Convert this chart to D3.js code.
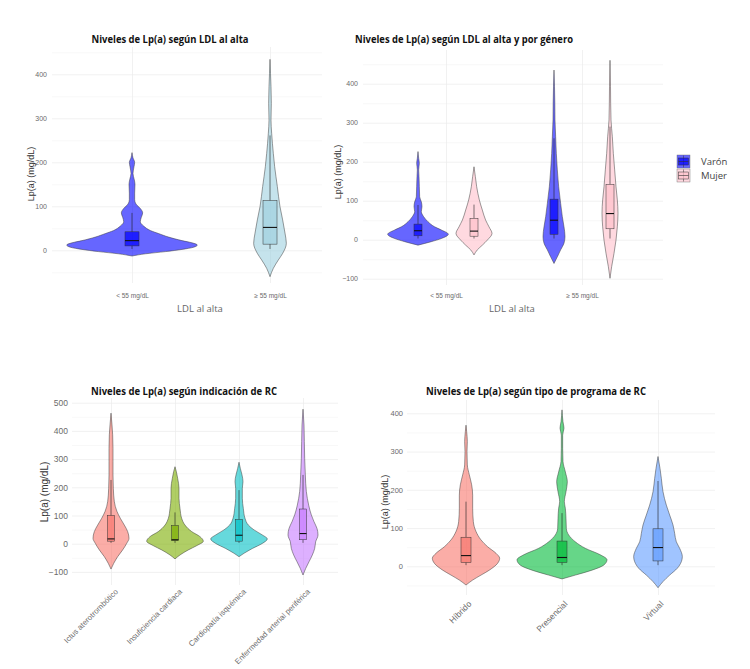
<!DOCTYPE html>
<html>
<head>
<meta charset="utf-8">
<script src="https://cdn.jsdelivr.net/npm/d3@7"></script>
<style>
  body { margin: 0; background: #fff; }
  svg { display: block; }
  .tick line { stroke: none; }
</style>
</head>
<body>
<script>
// ---- data ----
// densities are [Lp(a) value, relative density]; boxes are [low whisker, q1, median, q3, high whisker]
const ldlCats = ["< 55 mg/dL", "≥ 55 mg/dL"];
const ldlDensity = [
  [[-13,0],[-8,40],[-3,100],[2,150],[7,185],[12,196],[17,180],[22,150],[30,110],[38,80],[45,55],[55,35],[65,25],[75,28],[85,32],[95,25],[105,12],[115,8],[130,8],[150,9],[160,7],[175,3],[190,6],[200,8],[210,3],[222,0]],
  [[-60,0],[-41,10],[-22,25],[-7,38],[16,49],[39,45],[69,38],[99,30],[145,22],[190,14],[220,10],[266,5],[296,3],[334,4],[372,3],[402,1.5],[434,0]]
];
const ldlBox = [[3,10,22,42,85],[3,14,52,113,261]];

const sexes = ["Varón", "Mujer"];
const sexDensity = [
  [ // < 55
    [[-14,0],[-5,40],[3,70],[14,91],[25,70],[33,50],[46,30],[59,17],[72,10],[85,12],[97,10],[110,5],[136,4],[162,3],[179,2],[196,4],[209,2],[226,0]],
    [[-39,0],[-26,10],[-14,25],[-1,40],[16,54],[33,45],[50,35],[76,25],[102,16],[136,8],[162,4],[187,0]]
  ],
  [ // >= 55
    [[-61,0],[-44,10],[-26,20],[-9,30],[8,33],[33,30],[59,25],[93,20],[136,14],[179,10],[221,7],[264,5],[307,3],[350,2.5],[392,1.5],[435,0]],
    [[-99,0],[-69,5],[-35,12],[-1,18],[33,22],[68,24],[102,22],[136,18],[179,14],[221,10],[264,7],[307,3],[350,2],[392,1.5],[460,0]]
  ]
];
const sexBox = [
  [[3,10,23,40,89],[3,9,22,55,90]],
  [[3,14,50,104,260],[3,28,67,142,290]]
];

const rcCats = ["Ictus aterotrombótico", "Insuficiencia cardiaca", "Cardiopatía isquémica", "Enfermedad arterial periférica"];
const rcDensity = [
  [[-90,0],[-70,8],[-46,20],[-22,35],[1,47],[19,54],[43,50],[66,40],[90,28],[114,18],[149,10],[196,7],[244,6],[291,6],[338,6],[386,5],[421,3],[463,0]],
  [[-54,0],[-40,15],[-22,40],[-7,65],[9,85],[25,75],[43,50],[66,30],[90,20],[125,15],[161,12],[196,12],[232,8],[256,4],[273,0]],
  [[-46,0],[-34,15],[-17,40],[1,70],[17,85],[31,70],[49,45],[66,28],[90,18],[125,13],[161,10],[196,10],[220,12],[244,9],[267,4],[289,0]],
  [[-111,0],[-88,8],[-64,18],[-40,28],[-17,35],[7,38],[31,45],[54,42],[78,33],[102,25],[137,17],[185,10],[244,7],[303,5],[362,4],[421,3],[477,0]]
];
const rcBox = [[3,9,17,100,226],[3,11,14,65,111],[3,9,30,86,190],[3,14,36,123,244]];

const progCats = ["Híbrido", "Presencial", "Virtual"];
const progDensity = [
  [[-49,0],[-36,20],[-23,45],[-10,70],[8,95],[21,101],[34,90],[51,65],[69,45],[91,30],[117,22],[152,20],[186,20],[213,17],[239,10],[265,4],[300,3],[326,4],[352,2],[369,0]],
  [[-33,0],[-23,40],[-10,90],[3,125],[17,135],[30,115],[47,70],[64,40],[82,20],[99,13],[125,12],[152,10],[169,7],[195,12],[221,16],[247,10],[274,3],[308,2],[343,2],[361,6],[378,3],[409,0]],
  [[-56,0],[-40,15],[-23,35],[-5,58],[12,70],[25,73],[47,65],[64,55],[86,50],[108,45],[134,35],[160,25],[195,15],[230,10],[256,6],[287,0]]
];
const progBox = [[3,10,28,76,169],[3,10,23,66,139],[3,14,49,98,223]];

// ---- drawing ----
const svg = d3.select("body").append("svg").attr("width", 750).attr("height", 669);
const densityWidth = d3.scaleLinear().domain([0, 3]).range([0, 1]);

function panel(p) {
  const g = svg.append("g");
  const y = d3.scaleLinear().domain([0, 400]).range([p.zeroPx, p.fourHundredPx]);
  const x = d3.scalePoint().domain(p.cats).range(p.xRange);
  const gw = p.gx1 - p.gx0;

  // minor grid
  g.append("g").attr("transform", `translate(${p.gx0},0)`)
    .call(d3.axisLeft(y).tickValues(p.minor).tickSize(-gw).tickFormat(""))
    .call(a => a.select(".domain").remove())
    .selectAll(".tick line").style("stroke", "#f4f4f4").style("stroke-width", 0.6);
  // major grid + labels
  const ya = g.append("g").attr("transform", `translate(${p.gx0},0)`)
    .call(d3.axisLeft(y).tickValues(p.major).tickSize(-gw).tickPadding(p.tickPad))
    .call(a => a.select(".domain").remove());
  ya.selectAll(".tick line").style("stroke", "#ebebeb").style("stroke-width", 0.7);
  ya.selectAll("text").attr("x", -p.tickPad).style("font-family", "Liberation Sans, Arial, sans-serif")
    .style("font-size", p.tickFont + "px").style("fill", "#6b6b6b");
  // vertical grid
  const xg = g.append("g").attr("transform", `translate(0,${p.vg1})`)
    .call(d3.axisBottom(x).tickSize(-(p.vg1 - p.vg0)).tickFormat(""))
    .call(a => a.select(".domain").remove());
  xg.selectAll(".tick line").style("stroke", "#ebebeb").style("stroke-width", 0.7);

  // x labels
  const xa = g.append("g").attr("transform", `translate(0,${p.xLabY})`)
    .call(d3.axisBottom(x).tickSize(0).tickPadding(0))
    .call(a => a.select(".domain").remove());
  xa.selectAll("text").style("font-family", "Liberation Sans, Arial, sans-serif")
    .style("font-size", p.xFont + "px").style("fill", "#6b6b6b");
  if (p.rotate) {
    xa.selectAll("text").attr("x", 0).attr("y", 0).attr("dy", "0.75em")
      .attr("text-anchor", "end").attr("transform", `translate(${p.rotShift},0) rotate(-45)`);
  }

  // violins + boxes
  p.groups.forEach(gr => {
    const cx = x(gr.cat) + (gr.offset || 0);
    const area = d3.area()
      .y(d => y(d[0]))
      .x0(d => cx - densityWidth(d[1]))
      .x1(d => cx + densityWidth(d[1]))
      .curve(d3.curveMonotoneY);
    g.append("path").attr("d", area(gr.density))
      .attr("fill", gr.color).attr("fill-opacity", p.violinAlpha)
      .attr("stroke", "#3a3a3a").attr("stroke-width", 0.5);
    const [lo, q1, md, q3, hi] = gr.box;
    const bw = p.boxW;
    g.append("line").attr("x1", cx).attr("x2", cx).attr("y1", y(q3)).attr("y2", y(hi))
      .attr("stroke", "#222").attr("stroke-width", 0.6);
    g.append("line").attr("x1", cx).attr("x2", cx).attr("y1", y(q1)).attr("y2", y(lo))
      .attr("stroke", "#222").attr("stroke-width", 0.6);
    g.append("rect").attr("x", cx - bw / 2).attr("width", bw)
      .attr("y", y(q3)).attr("height", y(q1) - y(q3))
      .attr("fill", gr.boxColor || gr.color).attr("fill-opacity", p.boxAlpha)
      .attr("stroke", "#333").attr("stroke-width", 0.5);
    g.append("line").attr("x1", cx - bw / 2).attr("x2", cx + bw / 2)
      .attr("y1", y(md)).attr("y2", y(md)).attr("stroke", "#111").attr("stroke-width", 1.1);
  });

  // titles
  const t = g.append("text").attr("x", p.titleX).attr("y", p.titleY)
    .attr("text-anchor", p.titleAnchor)
    .style("font-family", "Open Sans, sans-serif").style("font-weight", "bold")
    .style("font-size", "11px").style("fill", "#111")
    .text(p.title);
  t.attr("textLength", p.titleW).attr("lengthAdjust", "spacingAndGlyphs");

  g.append("text").attr("transform", `translate(${p.yTitleX},${p.yTitleY}) rotate(-90)`)
    .attr("text-anchor", "middle")
    .style("font-family", "Liberation Sans, Arial, sans-serif")
    .style("font-size", p.yTitleFont + "px").style("fill", "#333")
    .text("Lp(a) (mg/dL)");

  if (p.xTitle) {
    g.append("text").attr("x", p.xTitleX).attr("y", p.xTitleY).attr("text-anchor", "middle")
      .style("font-family", "Open Sans, sans-serif").style("font-size", "9.5px").style("fill", "#666")
      .text(p.xTitle);
  }
  return { g, x, y };
}

const hue4 = ["#F8766D", "#7CAE00", "#00BFC4", "#C77CFF"];
const hue3 = ["#F8766D", "#00BA38", "#619CFF"];
const sexColors = ["#0000ff", "#FFC0CB"];

// panel 1
panel({
  cats: ldlCats, xRange: [132, 270], zeroPx: 250.3, fourHundredPx: 74.3,
  gx0: 52, gx1: 322, vg0: 47, vg1: 283,
  major: [0, 100, 200, 300, 400], minor: [-50, 50, 150, 250, 350, 450],
  tickPad: 5, tickFont: 7, xLabY: 293, xFont: 6.5,
  violinAlpha: 0.6, boxAlpha: 0.7, boxW: 14,
  groups: ldlCats.map((c, i) => ({ cat: c, density: ldlDensity[i], box: ldlBox[i], color: ["#0000ff", "#9fd0df"][i] })),
  title: "Niveles de Lp(a) según LDL al alta", titleX: 170, titleY: 43, titleAnchor: "middle", titleW: 157,
  yTitleX: 34, yTitleY: 174, yTitleFont: 9,
  xTitle: "LDL al alta", xTitleX: 200, xTitleY: 312
});

// panel 2
const p2groups = [];
ldlCats.forEach((c, i) => sexes.forEach((s, j) => p2groups.push({
  cat: c, offset: j === 0 ? -28 : 28, density: sexDensity[i][j], box: sexBox[i][j], color: sexColors[j]
})));
panel({
  cats: ldlCats, xRange: [446, 582], zeroPx: 239.7, fourHundredPx: 83.7,
  gx0: 363, gx1: 663, vg0: 50, vg1: 285,
  major: [-100, 0, 100, 200, 300, 400], minor: [-50, 50, 150, 250, 350, 450],
  tickPad: 5, tickFont: 7, xLabY: 293, xFont: 6.5,
  violinAlpha: 0.6, boxAlpha: 0.7, boxW: 8,
  groups: p2groups,
  title: "Niveles de Lp(a) según LDL al alta y por género", titleX: 355, titleY: 43, titleAnchor: "start", titleW: 218,
  yTitleX: 341, yTitleY: 172, yTitleFont: 9,
  xTitle: "LDL al alta", xTitleX: 512, xTitleY: 312
});

// legend for panel 2
const leg = svg.append("g");
sexes.forEach((s, j) => {
  const ky = 155 + j * 14;
  const k = leg.append("g").attr("transform", `translate(677,${ky})`);
  k.append("rect").attr("width", 13).attr("height", 13).attr("fill", sexColors[j]).attr("fill-opacity", 0.6)
    .attr("stroke", "#666").attr("stroke-width", 0.4);
  k.append("line").attr("x1", 6.5).attr("x2", 6.5).attr("y1", 0.5).attr("y2", 12.5).attr("stroke", "#333").attr("stroke-width", 0.5);
  k.append("rect").attr("x", 1.5).attr("y", 3).attr("width", 10).attr("height", 7)
    .attr("fill", sexColors[j]).attr("fill-opacity", 0.7).attr("stroke", "#333").attr("stroke-width", 0.5);
  k.append("line").attr("x1", 1.5).attr("x2", 11.5).attr("y1", 6.5).attr("y2", 6.5).attr("stroke", "#333").attr("stroke-width", 0.6);
  leg.append("text").attr("x", 701).attr("y", ky + 10).text(s)
    .style("font-family", "Open Sans, sans-serif").style("font-size", "9.5px").style("fill", "#444");
});

// panel 3
panel({
  cats: rcCats, xRange: [111, 303], zeroPx: 543.7, fourHundredPx: 430.9,
  gx0: 72, gx1: 338, vg0: 398, vg1: 585,
  major: [-100, 0, 100, 200, 300, 400, 500], minor: [-50, 50, 150, 250, 350, 450],
  tickPad: 4, tickFont: 8.5, xLabY: 588, xFont: 7.8, rotate: true, rotShift: 3,
  violinAlpha: 0.6, boxAlpha: 0.7, boxW: 7,
  groups: rcCats.map((c, i) => ({ cat: c, density: rcDensity[i], box: rcBox[i], color: hue4[i] })),
  title: "Niveles de Lp(a) según indicación de RC", titleX: 91, titleY: 395, titleAnchor: "start", titleW: 186,
  yTitleX: 48, yTitleY: 492, yTitleFont: 10
});

// panel 4
panel({
  cats: progCats, xRange: [466, 658], zeroPx: 566.3, fourHundredPx: 413.3,
  gx0: 407, gx1: 715, vg0: 400, vg1: 595,
  major: [0, 100, 200, 300, 400], minor: [-50, 50, 150, 250, 350],
  tickPad: 4, tickFont: 7.5, xLabY: 600, xFont: 8.5, rotate: true, rotShift: 1,
  violinAlpha: 0.6, boxAlpha: 0.7, boxW: 10,
  groups: progCats.map((c, i) => ({ cat: c, density: progDensity[i], box: progBox[i], color: hue3[i] })),
  title: "Niveles de Lp(a) según tipo de programa de RC", titleX: 426, titleY: 395, titleAnchor: "start", titleW: 220,
  yTitleX: 388, yTitleY: 502, yTitleFont: 9
});
</script>
</body>
</html>
